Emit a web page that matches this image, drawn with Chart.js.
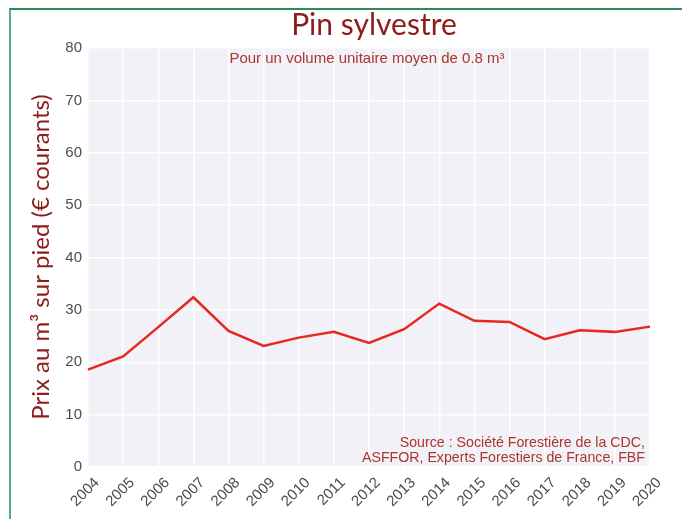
<!DOCTYPE html>
<html>
<head>
<meta charset="utf-8">
<script src="https://cdn.jsdelivr.net/npm/chart.js@4"></script>
<style>
  html, body { margin: 0; padding: 0; background: #fff; }
  #wrap { position: relative; width: 682px; height: 519px; }
  #cadre {
    position: absolute; left: 9px; top: 8px; right: 0; bottom: 0;
    border-top: 2px solid #2f8a55; border-left: 2px solid #5aae86;
  }
  canvas { position: absolute; left: 0; top: 0; }
</style>
</head>
<body>
<div id="wrap">
  <div id="cadre"></div>
  <canvas id="graphique" width="682" height="519"></canvas>
</div>
<script>
// Prix du pin sylvestre sur pied, € courants par m3
const annees = ['2004', '2005', '2006', '2007', '2008', '2009', '2010', '2011', '2012',
                '2013', '2014', '2015', '2016', '2017', '2018', '2019', '2020'];
const prix = [18.6, 21.1, 26.7, 32.4, 26.0, 23.1, 24.7, 25.8, 23.7,
              26.3, 31.2, 27.9, 27.7, 24.4, 26.1, 25.8, 26.8];
const graduationsY = [0, 10, 20, 30, 40, 50, 60, 70, 80];

const titre = 'Pin sylvestre';
const titreAxeY = 'Prix au m³ sur pied (€ courants)';
const sousTitre = 'Pour un volume unitaire moyen de 0.8 m³';
const source = ['Source : Société Forestière de la CDC,', 'ASFFOR, Experts Forestiers de France, FBF'];

const rougeTexte = '#8c1d1a';
const rougeNote = '#a8372c';

// fond du graphique + textes
const habillage = {
    id: 'habillage',
    beforeDraw(chart) {
        const { ctx, chartArea: a } = chart;
        ctx.save();
        ctx.fillStyle = '#f1f1f7';
        ctx.fillRect(a.left, a.top, a.right - a.left, a.bottom - a.top);
        ctx.restore();
    },
    afterDraw(chart) {
        const { ctx, chartArea: a } = chart;
        ctx.save();
        ctx.fillStyle = rougeTexte;
        ctx.textAlign = 'center';
        ctx.textBaseline = 'middle';
        ctx.font = '30px Lato';
        ctx.fillText(titre, 374, 25);

        ctx.save();
        ctx.translate(41, 257);
        ctx.rotate(-Math.PI / 2);
        ctx.font = '24px Lato';
        ctx.fillText(titreAxeY, 0, 0);
        ctx.restore();

        ctx.fillStyle = rougeNote;
        ctx.font = '15px "Liberation Sans"';
        ctx.fillText(sousTitre, 367, 59);

        ctx.textAlign = 'right';
        ctx.font = '14.2px "Liberation Sans"';
        ctx.fillText(source[0], a.right - 5, 443);
        ctx.fillText(source[1], a.right - 5, 458);
        ctx.restore();
    }
};

new Chart(document.getElementById('graphique'), {
    type: 'line',
    data: {
        labels: annees,
        datasets: [{
            data: prix,
            borderColor: '#e8271f',
            borderWidth: 2.5,
            pointRadius: 0,
            tension: 0,
            fill: false
        }]
    },
    options: {
        responsive: false,
        animation: false,
        layout: { padding: { left: 0, right: 32, top: 48, bottom: 0 } },
        plugins: { legend: { display: false }, tooltip: { enabled: false } },
        scales: {
            x: {
                offset: false,
                border: { display: false },
                grid: { color: '#ffffff', lineWidth: 1.5, drawTicks: false },
                ticks: {
                    color: '#4d4d4d',
                    font: { family: 'Liberation Sans', size: 15 },
                    minRotation: 45,
                    maxRotation: 45,
                    padding: 7,
                    labelOffset: 9,
                    autoSkip: false
                },
                afterFit(scale) { scale.height = 52; }
            },
            y: {
                min: 0,
                max: 80,
                border: { display: false },
                grid: { color: '#ffffff', lineWidth: 1.5, drawTicks: false },
                afterBuildTicks(scale) {
                    scale.ticks = graduationsY.map(v => ({ value: v }));
                },
                ticks: {
                    color: '#4d4d4d',
                    font: { family: 'Liberation Sans', size: 15 },
                    padding: 6
                },
                afterFit(scale) { scale.width = 88; }
            }
        }
    },
    plugins: [habillage]
});
</script>
</body>
</html>
